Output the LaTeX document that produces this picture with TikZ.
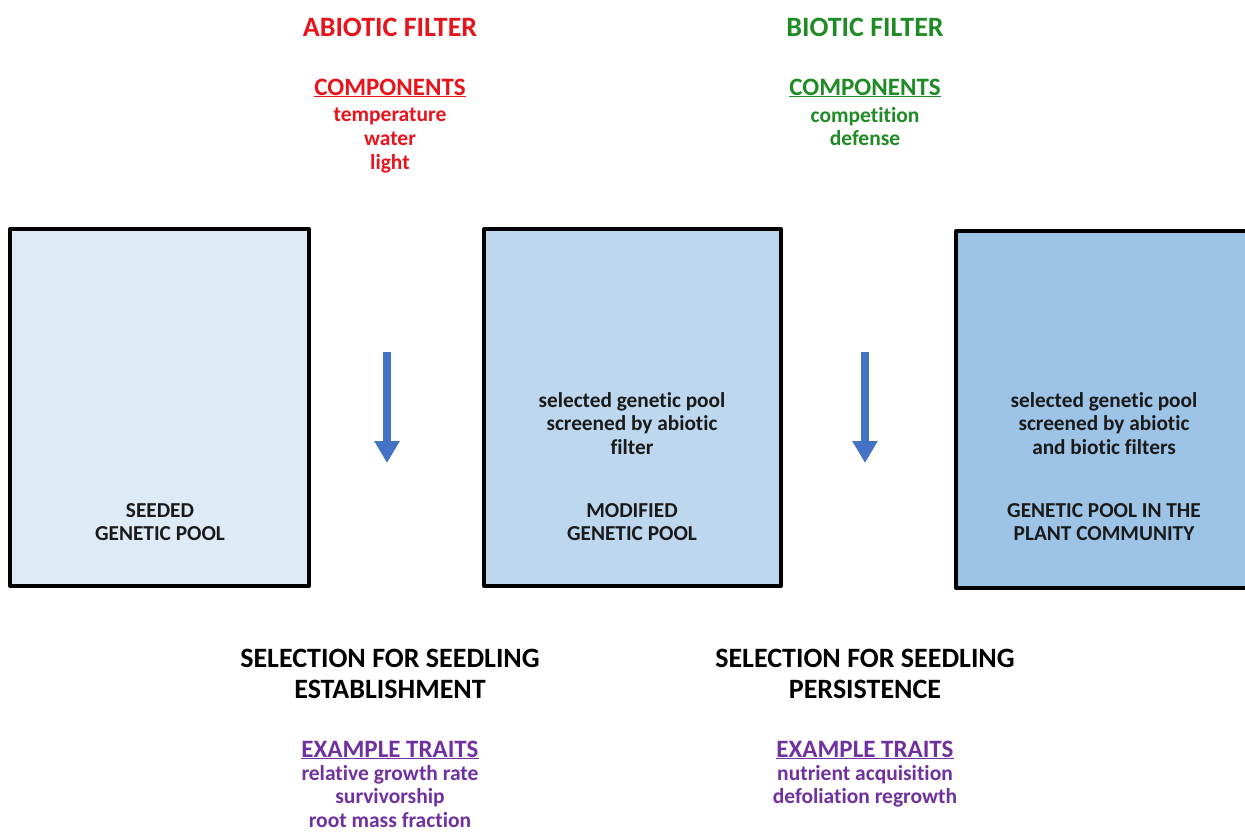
\documentclass[tikz,border=0pt]{standalone}
\usepackage{fontspec}
\setmainfont{Carlito}[RawFeature={-liga}]
\usetikzlibrary{arrows.meta}
\definecolor{abred}{HTML}{E8141C}
\definecolor{bigreen}{HTML}{1F8B24}
\definecolor{trpurple}{HTML}{7030A0}
\definecolor{arrblue}{HTML}{4472C4}
\definecolor{fillA}{HTML}{DEEAF6}
\definecolor{fillB}{HTML}{BDD7EE}
\definecolor{fillC}{HTML}{9DC3E6}
\definecolor{txtdark}{HTML}{1A1A1A}
\tikzset{
  pool/.style={draw=black, line width=4pt, line join=round},
  title/.style={font=\bfseries\fontsize{28}{32}\selectfont, inner sep=0pt, align=center},
  head/.style={font=\bfseries\fontsize{25}{28}\selectfont, inner sep=0pt, align=center},
  items/.style={font=\bfseries\fontsize{21.5}{23.7}\selectfont, inner sep=0pt, align=center},
  traits/.style={font=\bfseries\fontsize{21.5}{23.5}\selectfont, inner sep=0pt, align=center},
  boxtxt/.style={font=\bfseries\fontsize{21.3}{23.5}\selectfont, inner sep=0pt, align=center, text=txtdark},
  seltxt/.style={font=\bfseries\fontsize{28}{31}\selectfont, inner sep=0pt, align=center, text=black},
  downarrow/.style={arrblue, line width=8pt, -{Triangle[width=24pt,length=22pt]}},
}
\begin{document}
\begin{tikzpicture}[x=1pt,y=-1pt]
\useasboundingbox (0,0) rectangle (1245,833);
% boxes
\filldraw[pool, fill=fillA] (10,229) rectangle (309,586);
\filldraw[pool, fill=fillB] (484,229) rectangle (781,586);
\filldraw[pool, fill=fillC] (956,231) rectangle (1250,588);
% headings
\node[title, text=abred] (abt) at (390,27) {ABIOTIC FILTER};
\node[head, text=abred] (abc) at (390,88) {\underline{COMPONENTS}};
\node[items, text=abred, anchor=north] (abi) at (390,108) {temperature\\water\\light};
\node[title, text=bigreen] (bit) at (865,27) {BIOTIC FILTER};
\node[head, text=bigreen] (bic) at (865,88) {\underline{COMPONENTS}};
\node[items, text=bigreen, anchor=north] (bii) at (865,107) {competition\\defense};
% box texts
\node[boxtxt, anchor=north] (b1) at (160,503) {SEEDED\\GENETIC POOL};
\node[boxtxt, anchor=north] (b2a) at (632,392) {selected genetic pool\\screened by abiotic\\filter};
\node[boxtxt, anchor=north] (b2b) at (632,503) {MODIFIED\\GENETIC POOL};
\node[boxtxt, anchor=north] (b3a) at (1104,392) {selected genetic pool\\screened by abiotic\\and biotic filters};
\node[boxtxt, anchor=north] (b3b) at (1104,503) {GENETIC POOL IN THE\\PLANT COMMUNITY};
% arrows
\coordinate (a1s) at (387,352);
\coordinate (a1e) at (387,463);
\coordinate (a2s) at (865,352);
\coordinate (a2e) at (865,463);
\draw[downarrow] (a1s) -- (a1e);
\draw[downarrow] (a2s) -- (a2e);
% bottom texts
\node[seltxt, anchor=north] (s1) at (390,649) {SELECTION FOR SEEDLING\\ESTABLISHMENT};
\node[head, text=trpurple] (t1) at (390,750) {\underline{EXAMPLE TRAITS}};
\node[traits, text=trpurple, anchor=north] (t1i) at (390,765) {relative growth rate\\survivorship\\root mass fraction};
\node[seltxt, anchor=north] (s2) at (865,649) {SELECTION FOR SEEDLING\\PERSISTENCE};
\node[head, text=trpurple] (t2) at (865,750) {\underline{EXAMPLE TRAITS}};
\node[traits, text=trpurple, anchor=north] (t2i) at (865,765) {nutrient acquisition\\defoliation regrowth};
\end{tikzpicture}
\end{document}
